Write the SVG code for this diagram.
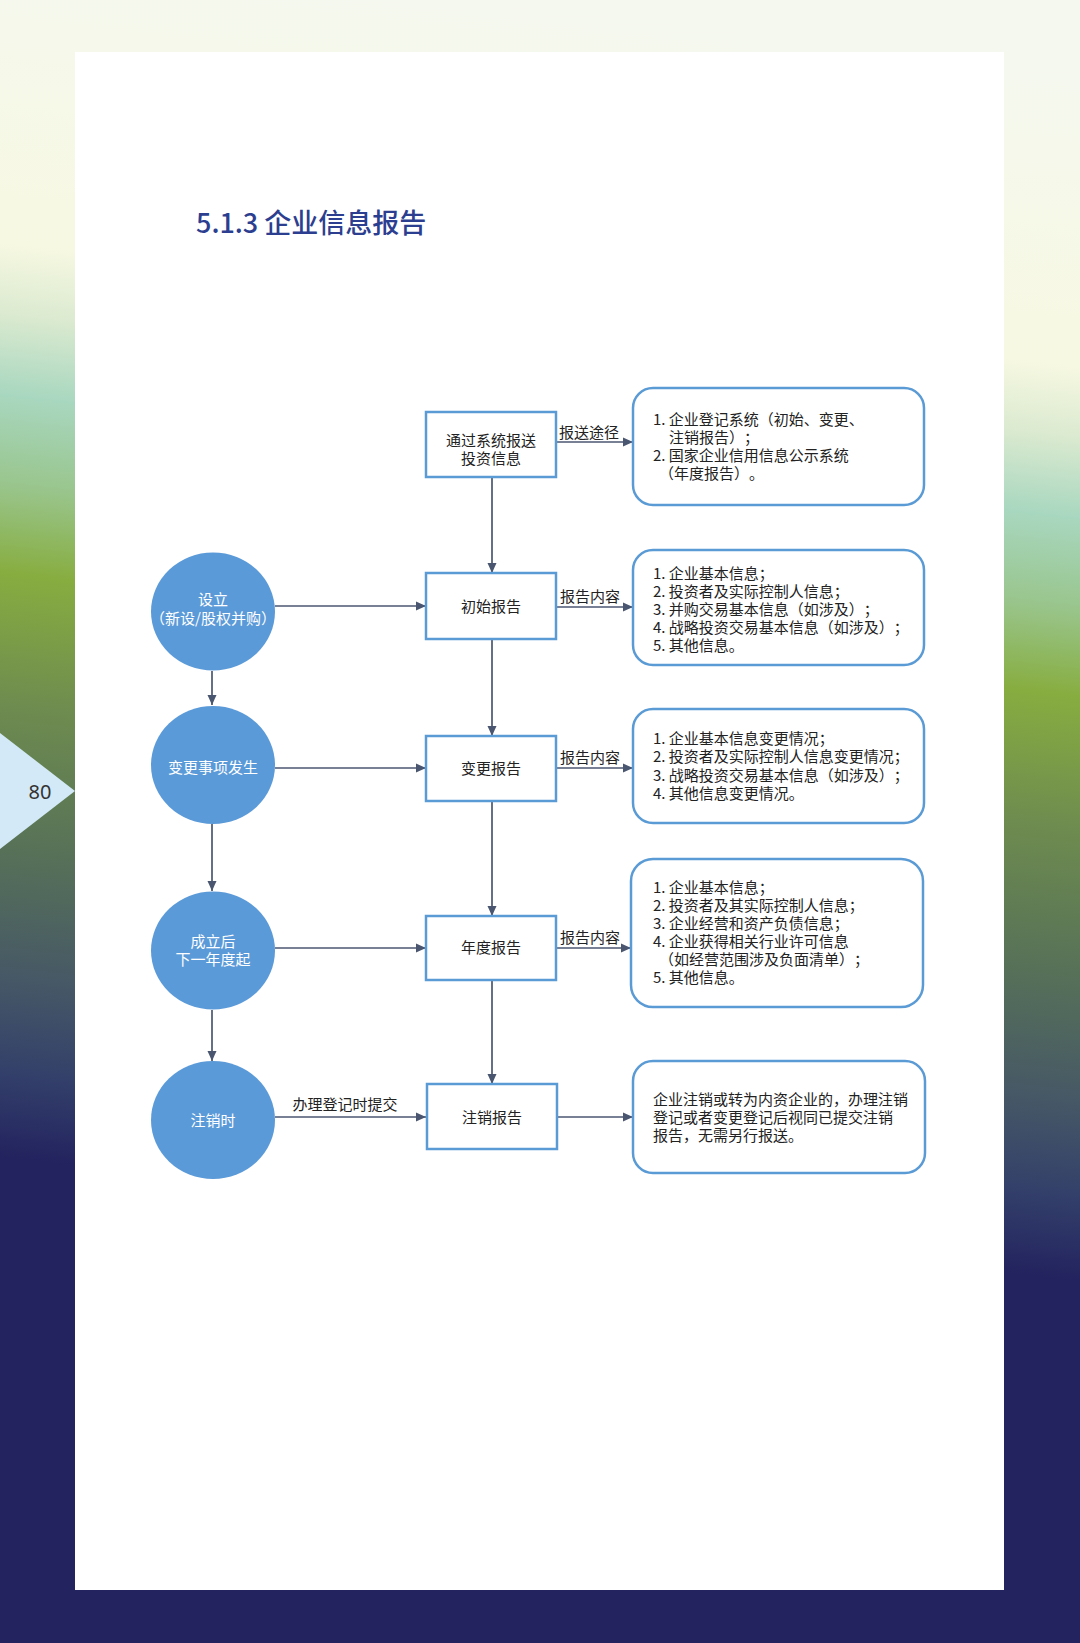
<svg xmlns="http://www.w3.org/2000/svg" width="1080" height="1643" viewBox="0 0 1080 1643">
<defs>
<linearGradient id="bg" gradientUnits="userSpaceOnUse" x1="540" y1="0" x2="353.5" y2="1621.6">
<stop offset="0" stop-color="#f5f8ef"/>
<stop offset="0.185" stop-color="#f7f8e2"/>
<stop offset="0.228" stop-color="#dbead0"/>
<stop offset="0.278" stop-color="#a8d7bf"/>
<stop offset="0.333" stop-color="#99c58c"/>
<stop offset="0.386" stop-color="#87ad40"/>
<stop offset="0.466" stop-color="#6e8c4f"/>
<stop offset="0.548" stop-color="#587357"/>
<stop offset="0.633" stop-color="#465866"/>
<stop offset="0.69" stop-color="#33406a"/>
<stop offset="0.742" stop-color="#23235f"/>
<stop offset="1" stop-color="#23235f"/>
</linearGradient>
<marker id="ah" viewBox="0 0 10 10" refX="10" refY="5" markerWidth="10" markerHeight="10" markerUnits="userSpaceOnUse" orient="auto">
<path d="M0,0.5 L10,5 L0,9.5 Z" fill="#4a5670"/>
</marker>
</defs>
<style>
text{text-spacing-trim:space-all}
.t{font-family:"Noto Sans CJK SC","Noto Sans",sans-serif;font-size:15px;fill:#222222}
.c{text-anchor:middle}
.w{fill:#ffffff}
.box{fill:#ffffff;stroke:#5b9bd5;stroke-width:2.5}
.rb{fill:#ffffff;stroke:#5b9bd5;stroke-width:2.5}
.cir{fill:#5b9ad8}
.ln{stroke:#4a5670;stroke-width:1.7;fill:none;marker-end:url(#ah)}
</style>
<rect x="0" y="0" width="1080" height="1643" fill="url(#bg)"/>
<rect x="75" y="52" width="929" height="1538" fill="#ffffff"/>
<polygon points="0,733 75,791 0,849" fill="#d3e9f7"/>
<text x="40" y="799" font-family="Noto Sans, sans-serif" font-size="20" fill="#333333" text-anchor="middle">80</text>
<text x="196" y="233" font-family="Noto Sans CJK SC, Noto Sans, sans-serif" font-size="27" font-weight="500" fill="#2c3e8f">5.1.3 企业信息报告</text>

<g id="connectors">
<line class="ln" x1="556" y1="442" x2="633" y2="442"/>
<line class="ln" x1="556" y1="607" x2="633" y2="607"/>
<line class="ln" x1="556" y1="768" x2="633" y2="768"/>
<line class="ln" x1="556" y1="948" x2="631" y2="948"/>
<line class="ln" x1="557" y1="1117" x2="633" y2="1117"/>
<line class="ln" x1="275" y1="606" x2="426" y2="606"/>
<line class="ln" x1="275" y1="768" x2="426" y2="768"/>
<line class="ln" x1="275" y1="948" x2="426" y2="948"/>
<line class="ln" x1="275" y1="1117" x2="426" y2="1117"/>
<line class="ln" x1="492" y1="477" x2="492" y2="573"/>
<line class="ln" x1="492" y1="639" x2="492" y2="736"/>
<line class="ln" x1="492" y1="801" x2="492" y2="916"/>
<line class="ln" x1="492" y1="980" x2="492" y2="1084"/>
<line class="ln" x1="212" y1="671" x2="212" y2="705"/>
<line class="ln" x1="212" y1="824" x2="212" y2="891"/>
<line class="ln" x1="212" y1="1010" x2="212" y2="1061"/>
<text class="t c" x="589" y="438">报送途径</text>
<text class="t c" x="590" y="602">报告内容</text>
<text class="t c" x="590" y="763">报告内容</text>
<text class="t c" x="590" y="943">报告内容</text>
<text class="t c" x="345" y="1110">办理登记时提交</text>
</g>

<g id="box-system">
<rect class="box" x="426" y="412" width="130" height="65"/>
<text class="t c" x="491" y="445.5">通过系统报送</text>
<text class="t c" x="491" y="463.5">投资信息</text>
</g>
<g id="box-initial">
<rect class="box" x="426" y="573" width="130" height="66"/>
<text class="t c" x="491" y="612">初始报告</text>
</g>
<g id="box-change">
<rect class="box" x="426" y="736" width="130" height="65"/>
<text class="t c" x="491" y="774">变更报告</text>
</g>
<g id="box-annual">
<rect class="box" x="426" y="916" width="130" height="64"/>
<text class="t c" x="491" y="953">年度报告</text>
</g>
<g id="box-cancel">
<rect class="box" x="427" y="1084" width="130" height="65"/>
<text class="t c" x="492" y="1123">注销报告</text>
</g>

<g id="circle-setup">
<ellipse class="cir" cx="213" cy="611.5" rx="62" ry="59"/>
<text class="t c w" x="213" y="605">设立</text>
<text class="t c w" x="213" y="624">（新设/股权并购）</text>
</g>
<g id="circle-change">
<ellipse class="cir" cx="213" cy="765" rx="62" ry="59"/>
<text class="t c w" x="213" y="772.5">变更事项发生</text>
</g>
<g id="circle-annual">
<ellipse class="cir" cx="213" cy="950.5" rx="62" ry="59"/>
<text class="t c w" x="213" y="947">成立后</text>
<text class="t c w" x="213" y="965">下一年度起</text>
</g>
<g id="circle-cancel">
<ellipse class="cir" cx="213" cy="1120" rx="62" ry="59"/>
<text class="t c w" x="213" y="1125.5">注销时</text>
</g>

<g id="note-channel">
<rect class="rb" x="633" y="388" width="291" height="117" rx="20"/>
<text class="t" x="653" y="424.5">1. 企业登记系统（初始、变更、</text>
<text class="t" x="669" y="442.5">注销报告）；</text>
<text class="t" x="653" y="460.5">2. 国家企业信用信息公示系统</text>
<text class="t" x="659" y="478.5">（年度报告）。</text>
</g>
<g id="note-initial">
<rect class="rb" x="633" y="550" width="291" height="115" rx="20"/>
<text class="t" x="653" y="578.5">1. 企业基本信息；</text>
<text class="t" x="653" y="596.5">2. 投资者及实际控制人信息；</text>
<text class="t" x="653" y="614.5">3. 并购交易基本信息（如涉及）；</text>
<text class="t" x="653" y="632.5">4. 战略投资交易基本信息（如涉及）；</text>
<text class="t" x="653" y="650.5">5. 其他信息。</text>
</g>
<g id="note-change">
<rect class="rb" x="633" y="709" width="291" height="114" rx="20"/>
<text class="t" x="653" y="743.5">1. 企业基本信息变更情况；</text>
<text class="t" x="653" y="762">2. 投资者及实际控制人信息变更情况；</text>
<text class="t" x="653" y="780.5">3. 战略投资交易基本信息（如涉及）；</text>
<text class="t" x="653" y="799">4. 其他信息变更情况。</text>
</g>
<g id="note-annual">
<rect class="rb" x="631" y="859" width="292" height="148" rx="22"/>
<text class="t" x="653" y="892.5">1. 企业基本信息；</text>
<text class="t" x="653" y="910.5">2. 投资者及其实际控制人信息；</text>
<text class="t" x="653" y="928.5">3. 企业经营和资产负债信息；</text>
<text class="t" x="653" y="946.5">4. 企业获得相关行业许可信息</text>
<text class="t" x="659" y="964.5">（如经营范围涉及负面清单）；</text>
<text class="t" x="653" y="983">5. 其他信息。</text>
</g>
<g id="note-cancel">
<rect class="rb" x="633" y="1061" width="292" height="112" rx="20"/>
<text class="t" x="653" y="1104.5">企业注销或转为内资企业的，办理注销</text>
<text class="t" x="653" y="1122.5">登记或者变更登记后视同已提交注销</text>
<text class="t" x="653" y="1140.5">报告，无需另行报送。</text>
</g>
</svg>
